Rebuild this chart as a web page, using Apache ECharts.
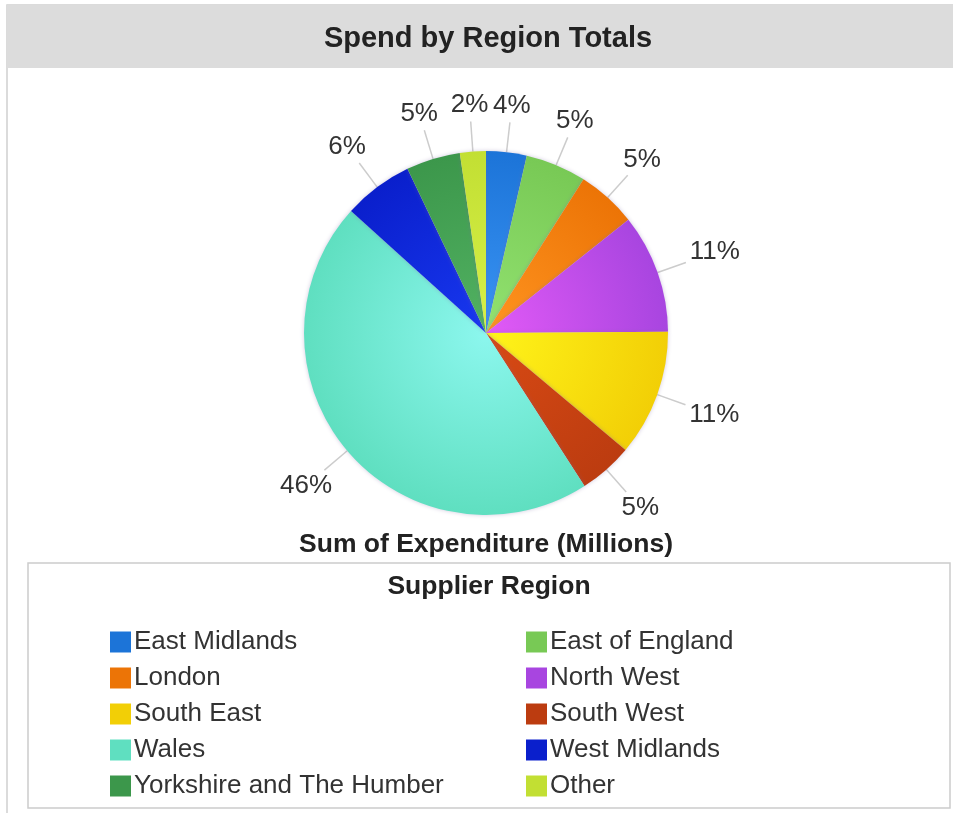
<!DOCTYPE html>
<html>
<head>
<meta charset="utf-8">
<script src="https://cdn.jsdelivr.net/npm/echarts@6/dist/echarts.min.js"></script>
<style>
html,body{margin:0;padding:0;background:#fff;}
#main{width:953px;height:813px;}
</style>
</head>
<body>
<div id="main"></div>
<script>
var categories = ['East Midlands','East of England','London','North West','South East','South West','Wales','West Midlands','Yorkshire and The Humber','Other'];
var values = [3.6, 5.4, 5.3, 10.6, 11.2, 4.8, 45.8, 6.2, 4.8, 2.3];
var baseColors = ['#1c74d8','#78c955','#ec7406','#a845e0','#f2cf06','#bc3c10','#5fdfc0','#0a1fcc','#3c974b','#c2df33'];
var lightColors = ['#3a94f4','#92e270','#ff9420','#e25af6','#fff41a','#d84a14','#8cf7ee','#1838f0','#52b262','#d8f048'];
var leftCol = ['East Midlands','London','South East','Wales','Yorkshire and The Humber'];
var rightCol = ['East of England','North West','South West','West Midlands','Other'];
var chartTitle = 'Spend by Region Totals';
var seriesTitle = 'Sum of Expenditure (Millions)';
var legendTitle = 'Supplier Region';

var chart = echarts.init(document.getElementById('main'));
var cx = 486, cy = 333, R = 182;
var LINE_LEN = 30, LABEL_GAP = 4;
var FONT = '"Liberation Sans", Arial, sans-serif';

var total = values.reduce(function(a, b){ return a + b; }, 0);
var midAngles = [];
(function(){
  var acc = 0;
  values.forEach(function(v){
    midAngles.push((acc + v / 2) / total * Math.PI * 2);
    acc += v;
  });
})();

var pieData = categories.map(function(c, i){
  return {
    name: c,
    value: values[i],
    itemStyle: {
      color: new echarts.graphic.RadialGradient(cx, cy, R, [
        {offset: 0, color: lightColors[i]},
        {offset: 1, color: baseColors[i]}
      ], true)
    }
  };
});
function legendData(list){
  return list.map(function(n){
    return {name: n, itemStyle: {color: baseColors[categories.indexOf(n)]}};
  });
}
var legendCommon = {
  orient: 'vertical',
  top: 629,
  padding: 0,
  itemWidth: 21,
  itemHeight: 21,
  itemGap: 10,
  icon: 'rect',
  selectedMode: false,
  textStyle: {fontFamily: FONT, fontSize: 26, color: '#333', lineHeight: 26, padding: [0,0,0,-2]}
};

function radialLabel(p){
  var a = midAngles[p.dataIndex];
  var dx = Math.sin(a), dy = -Math.cos(a);
  var hw = p.labelRect.width / 2, hh = p.labelRect.height / 2;
  var ext = Math.min(Math.abs(dx) > 1e-6 ? hw / Math.abs(dx) : 1e9, Math.abs(dy) > 1e-6 ? hh / Math.abs(dy) : 1e9);
  var r0 = R, r1 = R + LINE_LEN, rc = r1 + LABEL_GAP + ext;
  var p0 = [cx + dx * r0, cy + dy * r0];
  var p1 = [cx + dx * r1, cy + dy * r1];
  return {
    x: cx + dx * rc,
    y: cy + dy * rc,
    align: 'center',
    verticalAlign: 'middle',
    labelLinePoints: [p0, p1, p1]
  };
}

chart.setOption({
  animation: false,
  backgroundColor: '#fff',
  graphic: [
    {type: 'rect', shape: {x: 7, y: 5, width: 960, height: 820}, style: {fill: 'none', stroke: '#cfcfcf', lineWidth: 1.5}, z: 0},
    {type: 'rect', shape: {x: 7, y: 5, width: 960, height: 63}, style: {fill: '#dcdcdc'}, z: 0},
    {type: 'rect', shape: {x: 28, y: 563, width: 922, height: 245}, style: {fill: 'none', stroke: '#cccccc', lineWidth: 1.5}, z: 0}
  ],
  title: [
    {text: chartTitle, left: 488, top: 24, padding: 0, textAlign: 'center',
     textStyle: {fontFamily: FONT, fontSize: 29, fontWeight: 'bold', color: '#222'}},
    {text: seriesTitle, left: 486, top: 531, padding: 0, textAlign: 'center',
     textStyle: {fontFamily: FONT, fontSize: 26.5, fontWeight: 'bold', color: '#222'}},
    {text: legendTitle, left: 489, top: 573, padding: 0, textAlign: 'center',
     textStyle: {fontFamily: FONT, fontSize: 26.5, fontWeight: 'bold', color: '#222'}}
  ],
  legend: [
    Object.assign({left: 110, data: legendData(leftCol)}, legendCommon),
    Object.assign({left: 526, data: legendData(rightCol)}, legendCommon)
  ],
  series: [{
    type: 'pie',
    center: [cx, cy],
    radius: [0, R],
    startAngle: 90,
    clockwise: true,
    avoidLabelOverlap: false,
    data: pieData,
    itemStyle: {borderWidth: 0, shadowBlur: 4, shadowColor: 'rgba(120,100,160,0.35)'},
    label: {
      show: true,
      position: 'outside',
      fontFamily: FONT,
      fontSize: 26,
      color: '#333',
      formatter: function(p){ return Math.round(p.percent) + '%'; }
    },
    labelLine: {show: true, length: LINE_LEN, length2: 0, lineStyle: {color: '#cccccc', width: 1.5}},
    labelLayout: radialLabel,
    emphasis: {disabled: true}
  }]
});
</script>
</body>
</html>
